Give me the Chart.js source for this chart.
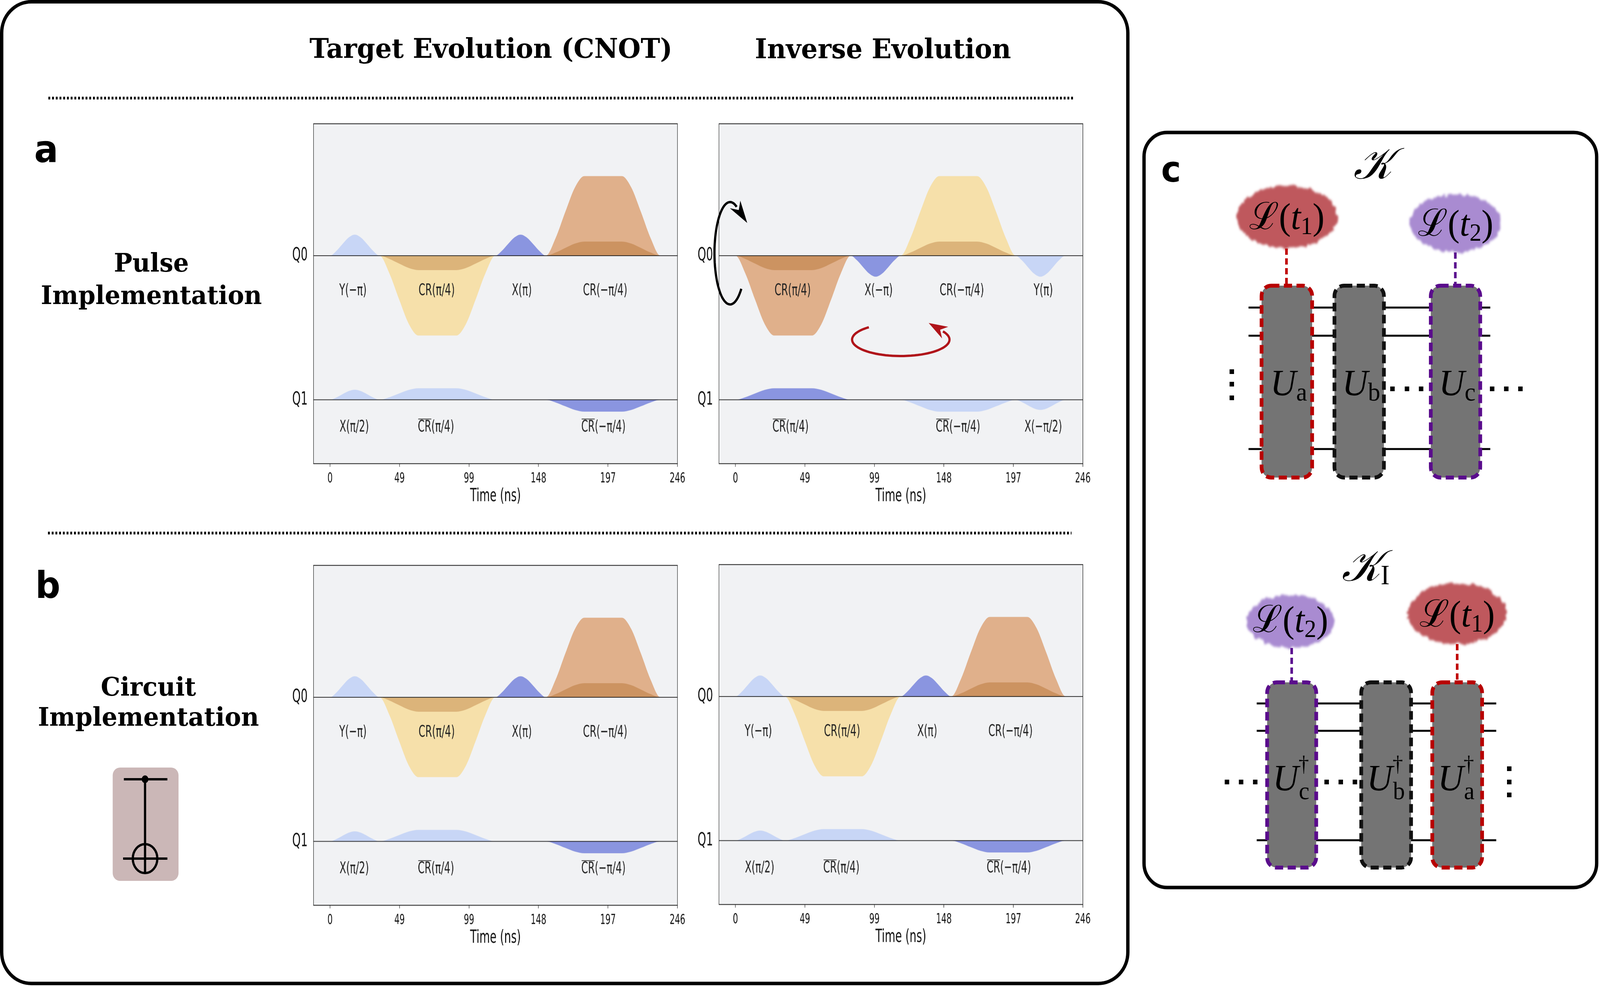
<!DOCTYPE html>
<html>
<head>
<meta charset="utf-8">
<script src="https://cdn.jsdelivr.net/npm/chart.js@4.4.1/dist/chart.umd.min.js"></script>
<style>
  html, body { margin: 0; padding: 0; background: #fff; overflow: hidden; }
  #page { position: relative; width: 4302px; height: 2523px; overflow: hidden; background: #fff; transform-origin: 0 0; }
  .plot { position: absolute; width: 1088px; height: 638.75px; transform: scaleY(1.6); transform-origin: 0 0; }
  #overlay { position: absolute; left: 0; top: 0; }
</style>
</head>
<body>
<div id="page">
  <div class="plot" style="left:773px;top:276px"><canvas id="pulseTarget"></canvas></div>
  <div class="plot" style="left:1863px;top:276px"><canvas id="pulseInverse"></canvas></div>
  <div class="plot" style="left:773px;top:1406px"><canvas id="circuitTarget"></canvas></div>
  <div class="plot" style="left:1863px;top:1404px"><canvas id="circuitInverse"></canvas></div>

  <svg id="overlay" width="4302" height="2523" xmlns="http://www.w3.org/2000/svg">
    <defs>
      <filter id="fuzz" x="-25%" y="-25%" width="150%" height="150%">
        <feTurbulence type="fractalNoise" baseFrequency="0.07" numOctaves="2" seed="4" result="noise"/>
        <feDisplacementMap in="SourceGraphic" in2="noise" scale="16" xChannelSelector="R" yChannelSelector="G" result="moved"/>
        <feGaussianBlur in="moved" stdDeviation="3"/>
      </filter>
    </defs>

    <!-- frames -->
    <rect x="4.5" y="4.5" width="3028" height="2512" rx="80" fill="none" stroke="#000" stroke-width="9"/>
    <rect x="3076" y="339" width="1217" height="1932" rx="62" fill="none" stroke="#000" stroke-width="9"/>

    <!-- dotted separators -->
    <line x1="130" y1="251" x2="2888" y2="251" stroke="#000" stroke-width="7" stroke-dasharray="5 5"/>
    <line x1="129" y1="1364" x2="2881" y2="1364" stroke="#000" stroke-width="7" stroke-dasharray="5 5"/>

    <!-- headings -->
    <g font-family="DejaVu Serif" font-weight="bold" fill="#000" text-anchor="middle">
      <text x="1320" y="148" font-size="70">Target Evolution (CNOT)</text>
      <text x="2374" y="149" font-size="70">Inverse Evolution</text>
      <text x="407" y="695" font-size="66">Pulse</text>
      <text x="407" y="778" font-size="66">Implementation</text>
      <text x="399" y="1780" font-size="66">Circuit</text>
      <text x="399" y="1857" font-size="66">Implementation</text>
    </g>
    <g font-family="DejaVu Sans" font-weight="bold" fill="#000">
      <text x="92" y="415" font-size="96">a</text>
      <text x="95" y="1530" font-size="94">b</text>
      <text x="3122" y="465" font-size="90">c</text>
    </g>

    <!-- CNOT icon -->
    <rect x="303" y="1964" width="177" height="290" rx="20" fill="#cbb7b7"/>
    <g stroke="#000" stroke-width="6" fill="none">
      <line x1="333" y1="1994" x2="450" y2="1994"/>
      <line x1="390" y1="1994" x2="390" y2="2234"/>
      <line x1="331" y1="2197" x2="450" y2="2197"/>
      <ellipse cx="390" cy="2197" rx="33" ry="37"/>
    </g>
    <ellipse cx="390" cy="1994" rx="9" ry="10" fill="#000"/>

    <!-- arrows on the inverse pulse panel -->
    <g id="arrows"></g>

    <!-- panel c : top -->
    <text x="3692" y="457" font-size="112" text-anchor="middle" font-family="DejaVu Serif" font-style="italic">𝒦</text>
    <ellipse cx="3461" cy="555" rx="135" ry="80" fill="#bf585d" filter="url(#fuzz)"/>
    <ellipse cx="3914" cy="571" rx="122" ry="74" fill="#a98bd1" filter="url(#fuzz)"/>
    <g font-family="Liberation Serif, DejaVu Serif" font-size="96" text-anchor="middle" fill="#000">
      <text x="3460" y="586"><tspan font-family="DejaVu Serif">ℒ</tspan>(<tspan font-style="italic">t</tspan><tspan font-size="64" dy="13">1</tspan><tspan dy="-13">)</tspan></text>
      <text x="3914" y="603"><tspan font-family="DejaVu Serif">ℒ</tspan>(<tspan font-style="italic">t</tspan><tspan font-size="64" dy="13">2</tspan><tspan dy="-13">)</tspan></text>
    </g>
    <g stroke-width="7" stroke-dasharray="16 9">
      <line x1="3459" y1="636" x2="3459" y2="731" stroke="#c00000"/>
      <line x1="3913" y1="646" x2="3913" y2="731" stroke="#5b0f8f"/>
    </g>
    <g stroke="#000" stroke-width="5">
      <line x1="3357" y1="787" x2="4007" y2="787"/>
      <line x1="3357" y1="859" x2="4007" y2="859"/>
      <line x1="3357" y1="1149" x2="4007" y2="1149"/>
    </g>
    <g fill="#747474" stroke-width="10" stroke-dasharray="22 12">
      <rect x="3392" y="731" width="136" height="491" rx="26" stroke="#b80000"/>
      <rect x="3588" y="731" width="133" height="491" rx="26" stroke="#111"/>
      <rect x="3847" y="731" width="133" height="491" rx="26" stroke="#5a0c8c"/>
    </g>
    <g font-family="Liberation Serif, DejaVu Serif" font-size="96" fill="#000" text-anchor="middle">
      <text x="3465" y="1012"><tspan font-style="italic">U</tspan><tspan font-size="66" dy="13">a</tspan></text>
      <text x="3660" y="1012"><tspan font-style="italic">U</tspan><tspan font-size="66" dy="13">b</tspan></text>
      <text x="3918" y="1012"><tspan font-style="italic">U</tspan><tspan font-size="66" dy="13">c</tspan></text>
    </g>
    <g fill="#000">
      <rect x="3306" y="945" width="12" height="12"/><rect x="3306" y="977" width="12" height="12"/><rect x="3306" y="1012" width="12" height="12"/>
      <rect x="3738" y="989" width="12" height="12"/><rect x="3777" y="989" width="12" height="12"/><rect x="3815" y="989" width="12" height="12"/>
      <rect x="4006" y="989" width="12" height="12"/><rect x="4044" y="989" width="12" height="12"/><rect x="4082" y="989" width="12" height="12"/>
    </g>

    <!-- panel c : bottom -->
    <text x="3672" y="1486" font-size="112" text-anchor="middle" font-family="DejaVu Serif" font-style="italic">𝒦<tspan font-style="normal" font-family="Liberation Serif" font-size="72" dy="9">I</tspan></text>
    <ellipse cx="3470" cy="1590" rx="118" ry="68" fill="#a98bd1" filter="url(#fuzz)"/>
    <ellipse cx="3918" cy="1570" rx="133" ry="78" fill="#bf585d" filter="url(#fuzz)"/>
    <g font-family="Liberation Serif, DejaVu Serif" font-size="96" text-anchor="middle" fill="#000">
      <text x="3470" y="1617"><tspan font-family="DejaVu Serif">ℒ</tspan>(<tspan font-style="italic">t</tspan><tspan font-size="64" dy="13">2</tspan><tspan dy="-13">)</tspan></text>
      <text x="3918" y="1603"><tspan font-family="DejaVu Serif">ℒ</tspan>(<tspan font-style="italic">t</tspan><tspan font-size="64" dy="13">1</tspan><tspan dy="-13">)</tspan></text>
    </g>
    <g stroke-width="7" stroke-dasharray="16 9">
      <line x1="3473" y1="1658" x2="3473" y2="1746" stroke="#5b0f8f"/>
      <line x1="3918" y1="1648" x2="3918" y2="1746" stroke="#c00000"/>
    </g>
    <g stroke="#000" stroke-width="5">
      <line x1="3379" y1="1800" x2="4023" y2="1800"/>
      <line x1="3379" y1="1870" x2="4023" y2="1870"/>
      <line x1="3379" y1="2150" x2="4023" y2="2150"/>
    </g>
    <g fill="#747474" stroke-width="10" stroke-dasharray="22 12">
      <rect x="3407" y="1746" width="132" height="474" rx="26" stroke="#5a0c8c"/>
      <rect x="3660" y="1746" width="134" height="474" rx="26" stroke="#111"/>
      <rect x="3851" y="1746" width="134" height="474" rx="26" stroke="#b80000"/>
    </g>
    <g font-family="Liberation Serif, DejaVu Serif" font-size="96" fill="#000">
      <text x="3422" y="2023"><tspan font-style="italic">U</tspan><tspan font-size="56" dy="-50">†</tspan><tspan font-size="64" dx="-27" dy="72">c</tspan></text>
      <text x="3675" y="2023"><tspan font-style="italic">U</tspan><tspan font-size="56" dy="-50">†</tspan><tspan font-size="64" dx="-27" dy="72">b</tspan></text>
      <text x="3866" y="2023"><tspan font-style="italic">U</tspan><tspan font-size="56" dy="-50">†</tspan><tspan font-size="64" dx="-27" dy="72">a</tspan></text>
    </g>
    <g fill="#000">
      <rect x="3293" y="1995" width="12" height="12"/><rect x="3331" y="1995" width="12" height="12"/><rect x="3369" y="1995" width="12" height="12"/>
      <rect x="3561" y="1995" width="12" height="12"/><rect x="3599" y="1995" width="12" height="12"/><rect x="3637" y="1995" width="12" height="12"/>
      <rect x="4052" y="1961" width="12" height="12"/><rect x="4052" y="1995" width="12" height="12"/><rect x="4052" y="2028" width="12" height="12"/>
    </g>
  </svg>
</div>

<script>
// fit the 4302 x 2523 figure into whatever viewport the page gets
(function () {
  const sx = window.innerWidth / 4302, sy = window.innerHeight / 2523;
  if (Math.abs(sx - 1) > 0.002 || Math.abs(sy - 1) > 0.002) {
    document.getElementById('page').style.transform = 'scale(' + sx + ',' + sy + ')';
  }
})();

// ---- data ----
const TIME_TICKS = [0, 49.2, 98.4, 147.6, 196.8, 246];
const TIME_LABELS = ['0', '49', '99', '148', '197', '246'];
const QUBITS = ['Q0', 'Q1'];

// pulse rows: [start (ns), end (ns), peak amplitude, envelope, channel colour kind]
const targetQ0 = [
  [0, 35, 0.146, 'gauss', 'driveLight'],
  [35, 117, -0.554, 'flat', 'cr'],
  [35, 117, -0.10, 'flat', 'crInner'],
  [117, 152.8, 0.146, 'gauss', 'driveDark'],
  [152.8, 233.9, 0.552, 'flat', 'crRev'],
  [152.8, 233.9, 0.098, 'flat', 'crRevInner']
];
const targetQ1 = [
  [0, 35, 0.07, 'gauss', 'driveLight'],
  [35, 117, 0.08, 'flat', 'driveLight'],
  [152.8, 233.9, -0.082, 'flat', 'driveDark']
];
const inverseQ0 = [
  [0, 81.6, -0.554, 'flat', 'crRev'],
  [0, 81.6, -0.10, 'flat', 'crRevInner'],
  [81.6, 117, -0.146, 'gauss', 'driveDark'],
  [117, 198.4, 0.552, 'flat', 'cr'],
  [117, 198.4, 0.098, 'flat', 'crInner'],
  [198.4, 233.5, -0.146, 'gauss', 'driveLight']
];
const inverseQ1 = [
  [0, 81.6, 0.08, 'flat', 'driveDark'],
  [117, 198.4, -0.082, 'flat', 'driveLight'],
  [198.4, 233.5, -0.07, 'gauss', 'driveLight']
];
// the circuit implementation schedules look the same as the target pulse schedule
const circuitTargetQ0 = targetQ0, circuitTargetQ1 = targetQ1;
const circuitInverseQ0 = targetQ0, circuitInverseQ1 = targetQ1;

// envelope shapes as seen in the plots: [fraction of duration, fraction of peak]
const GAUSS_PROFILE = [[0, 0], [0.125, 0.22], [0.25, 0.55], [0.375, 0.86], [0.5, 1], [0.625, 0.86], [0.75, 0.55], [0.875, 0.22], [1, 0]];
const FLAT_PROFILE = [[0, 0], [0.085, 0.22], [0.17, 0.55], [0.255, 0.86], [0.337, 1], [0.663, 1], [0.745, 0.86], [0.83, 0.55], [0.915, 0.22], [1, 0]];

// gate names: [time (ns), text, overline on CR]
const targetQ0Gates = [[16.2, 'Y(−π)'], [75.5, 'CR(π/4)'], [135.8, 'X(π)'], [194.8, 'CR(−π/4)']];
const targetQ1Gates = [[17.1, 'X(π/2)'], [75, 'CR(π/4)', true], [193.6, 'CR(−π/4)', true]];
const inverseQ0Gates = [[40.5, 'CR(π/4)'], [101.4, 'X(−π)'], [160.3, 'CR(−π/4)'], [218, 'Y(π)']];
const inverseQ1Gates = [[39, 'CR(π/4)', true], [157.6, 'CR(−π/4)', true], [218, 'X(−π/2)']];

// ---- styling ----
const S = 1.6;                // the pulse panels are stretched vertically
const FONT = "'DejaVu Sans', sans-serif";
const COLORS = {
  driveLight: '#c8d6f6',
  driveDark: '#8a95e0',
  cr: '#f6e0aa',
  crInner: '#dcb47a',
  crRev: '#e0b08b',
  crRevInner: '#cc9361'
};

function pulseDatasets(rows, base) {
  return rows.map(([t0, t1, amp, env, kind]) => {
    const prof = env === 'flat' ? FLAT_PROFILE : GAUSS_PROFILE;
    const pts = [{x: t0 - 2, y: base}];
    prof.forEach(([f, v]) => pts.push({x: t0 + f * (t1 - t0), y: base + amp * v}));
    pts.push({x: t1 + 2, y: base});
    return {
      data: pts,
      backgroundColor: COLORS[kind],
      fill: {value: base},
      borderWidth: 0,
      pointRadius: 0,
      cubicInterpolationMode: 'monotone',
      order: kind.endsWith('Inner') ? 0 : 1
    };
  });
}

const pulseDecor = {
  id: 'pulseDecor',
  beforeDatasetsDraw(chart) {
    const {ctx, chartArea: a} = chart;
    ctx.save();
    ctx.fillStyle = '#f1f2f4';
    ctx.fillRect(a.left, a.top, a.width, a.height);
    ctx.restore();
  },
  afterDatasetsDraw(chart, args, opts) {
    const {ctx, chartArea: a, scales: {x, y}} = chart;
    ctx.save();
    ctx.strokeStyle = '#111';
    ctx.lineWidth = 1.1;
    [0, -1].forEach(b => {
      const py = y.getPixelForValue(b);
      ctx.beginPath(); ctx.moveTo(a.left, py); ctx.lineTo(a.right, py); ctx.stroke();
    });
    ctx.strokeStyle = '#222';
    ctx.lineWidth = 1.3;
    ctx.strokeRect(a.left, a.top, a.width, a.height);

    ctx.fillStyle = '#222';
    ctx.font = '26px ' + FONT;
    ctx.textAlign = 'center';
    ctx.textBaseline = 'middle';
    const put = (list, py) => list.forEach(([t, txt, bar]) => {
      const px = x.getPixelForValue(t);
      ctx.fillText(txt, px, py);
      if (bar) {
        const w = ctx.measureText(txt).width, wc = ctx.measureText('CR').width;
        const l = px - w / 2, ty = py - 13;
        ctx.lineWidth = 1.1;
        ctx.beginPath(); ctx.moveTo(l + 1, ty); ctx.lineTo(l + wc, ty); ctx.stroke();
      }
    });
    put(opts.q0 || [], y.getPixelForValue(-0.245));
    put(opts.q1 || [], y.getPixelForValue(-1.19));
    ctx.restore();
  }
};

function pulseChart(id, q0Rows, q1Rows, q0Gates, q1Gates) {
  return new Chart(document.getElementById(id), {
    type: 'line',
    data: {datasets: [...pulseDatasets(q0Rows, 0), ...pulseDatasets(q1Rows, -1)]},
    options: {
      responsive: true,
      maintainAspectRatio: false,
      animation: false,
      devicePixelRatio: S,
      layout: {padding: {top: 18, right: 40, left: 0, bottom: 0}},
      plugins: {
        legend: {display: false},
        tooltip: {enabled: false},
        pulseDecor: {q0: q0Gates, q1: q1Gates}
      },
      scales: {
        x: {
          type: 'linear', min: -11.7, max: 246,
          afterBuildTicks: s => { s.ticks = TIME_TICKS.map(v => ({value: v})); },
          afterFit: s => { s.height = 70; },
          ticks: {autoSkip: false, maxRotation: 0, padding: 6, color: '#111',
                  font: {family: FONT, size: 22}, callback: (v, i) => TIME_LABELS[i]},
          grid: {drawOnChartArea: false, drawTicks: true, tickLength: 5, tickColor: '#555', tickWidth: 1.6},
          border: {display: false},
          title: {display: true, text: 'Time (ns)', color: '#111', font: {family: FONT, size: 29}, padding: 0}
        },
        y: {
          type: 'linear', min: -1.443, max: 0.915,
          afterBuildTicks: s => { s.ticks = [{value: -1}, {value: 0}]; },
          afterFit: s => { s.width = 70; },
          ticks: {padding: 8, color: '#111', font: {family: FONT, size: 29},
                  callback: v => (v === 0 ? QUBITS[0] : QUBITS[1])},
          grid: {display: false},
          border: {display: false}
        }
      }
    },
    plugins: [pulseDecor]
  });
}

pulseChart('pulseTarget', targetQ0, targetQ1, targetQ0Gates, targetQ1Gates);
pulseChart('pulseInverse', inverseQ0, inverseQ1, inverseQ0Gates, inverseQ1Gates);
pulseChart('circuitTarget', circuitTargetQ0, circuitTargetQ1, targetQ0Gates, targetQ1Gates);
pulseChart('circuitInverse', circuitInverseQ0, circuitInverseQ1, targetQ0Gates, targetQ1Gates);

// rotation arrows drawn over the inverse panel
function arcArrow(cx, cy, rx, ry, a0, a1, color, width, headLen, headW) {
  const rad = d => d * Math.PI / 180;
  const pts = [];
  const n = 60;
  for (let i = 0; i <= n; i++) {
    const a = rad(a0 + (a1 - a0) * i / n);
    pts.push([cx + rx * Math.cos(a), cy + ry * Math.sin(a)]);
  }
  const e = pts[n];
  const aE = rad(a1), dir = Math.sign(a1 - a0);
  let ux = -rx * Math.sin(aE) * dir, uy = ry * Math.cos(aE) * dir;
  const m = Math.hypot(ux, uy); ux /= m; uy /= m;
  const nx = -uy, ny = ux;
  const tip = [e[0] + ux * headLen, e[1] + uy * headLen];
  const back = [e[0] - ux * headLen * 0.15, e[1] - uy * headLen * 0.15];
  const head = [tip, [back[0] + nx * headW / 2, back[1] + ny * headW / 2], [e[0] + ux * headLen * 0.2, e[1] + uy * headLen * 0.2],
                [back[0] - nx * headW / 2, back[1] - ny * headW / 2]];
  const g = document.getElementById('arrows');
  const ns = 'http://www.w3.org/2000/svg';
  const path = document.createElementNS(ns, 'path');
  path.setAttribute('d', 'M' + pts.map(p => p[0].toFixed(1) + ' ' + p[1].toFixed(1)).join(' L'));
  path.setAttribute('fill', 'none');
  path.setAttribute('stroke', color);
  path.setAttribute('stroke-width', width);
  g.appendChild(path);
  const poly = document.createElementNS(ns, 'polygon');
  poly.setAttribute('points', head.map(p => p[0].toFixed(1) + ',' + p[1].toFixed(1)).join(' '));
  poly.setAttribute('fill', color);
  g.appendChild(poly);
}
arcArrow(1963, 648, 42, 131, 44, 295, '#000', 6, 50, 34);
arcArrow(2422, 869, 131, 42, 229, -30, '#b0141a', 6, 44, 34);
</script>
</body>
</html>
